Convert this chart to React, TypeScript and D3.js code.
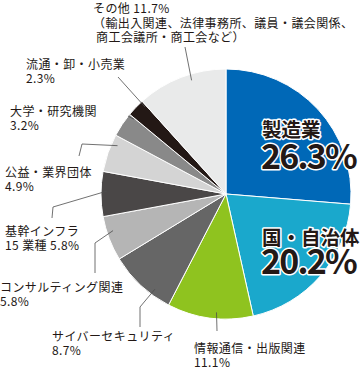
import * as d3 from 'd3';

// 業種別の割合（%）
const categories = [
  '製造業',
  '国・自治体',
  '情報通信・出版関連',
  'サイバーセキュリティ',
  'コンサルティング関連',
  '基幹インフラ15業種',
  '公益・業界団体',
  '大学・研究機関',
  '流通・卸・小売業',
  'その他',
];
const shares = [26.3, 20.2, 11.1, 8.7, 5.8, 5.8, 4.9, 3.2, 2.3, 11.7];
const colors = [
  '#0068b7',
  '#1aa8cc',
  '#8fc31f',
  '#666666',
  '#b5b5b5',
  '#4a4747',
  '#d4d4d4',
  '#898989',
  '#231815',
  '#e9eaea',
];

// 外側ラベルの配置（text lines / leader elbows / where the leader meets the slice）
const outerLabels = [
  { i: 9, x: 93, y: 13, lh: 14.5, lines: ['その他 11.7%', '（輸出入関連、法律事務所、議員・議会関係、', '\u00a0商工会議所・商工会など）'], elbow: [[185, 47]], t: 0.6 },
  { i: 8, x: 26, y: 69, lh: 14, lines: ['流通・卸・小売業', '2.3%'], elbow: [[118, 77]], t: 0.9 },
  { i: 7, x: 10, y: 116, lh: 14, lines: ['大学・研究機関', '3.2%'], elbow: [[128, 116]], t: 0.95 },
  { i: 6, x: 5, y: 177, lh: 14, lines: ['公益・業界団体', '4.9%'], elbow: [[79, 156], [82, 144]], t: 0.77 },
  { i: 5, x: 5, y: 236, lh: 14, lines: ['基幹インフラ', '15 業種 5.8%'], elbow: [[52, 218], [53, 207]], t: 0.57 },
  { i: 4, x: 0, y: 292, lh: 14, lines: ['コンサルティング関連', '5.8%'], elbow: [[95, 273], [95, 243]], t: 0.64 },
  { i: 3, x: 52, y: 341, lh: 14, lines: ['サイバーセキュリティ', '8.7%'], elbow: [[140, 327], [140, 307]], t: 0.3 },
  { i: 2, x: 194, y: 353, lh: 13.5, lines: ['情報通信・出版関連', '11.1%'], elbow: [[217, 331]], t: 0.43 },
];

const innerLabels = [
  { i: 0, x: 262, y: 137, y2: 169, name: '製造業' },
  { i: 1, x: 262, y: 245, y2: 274, name: '国・自治体' },
];

const cx = 226;
const cy = 194;
const radius = 125;
const font = '"Noto Sans CJK JP", "Noto Sans", sans-serif';

export default function App() {
  const pie = d3
    .pie<number>()
    .sort(null)
    .value((d) => d);
  const arcs = pie(shares);
  const arc = d3.arc<d3.PieArcDatum<number>>().innerRadius(0).outerRadius(radius);

  const leaderEnd = (i: number, t: number) => {
    const a = arcs[i];
    const ang = a.startAngle + t * (a.endAngle - a.startAngle);
    const r = radius * 0.95;
    return [cx + r * Math.sin(ang), cy - r * Math.cos(ang)];
  };
  const line = d3.line();

  return (
    <svg
      width={363}
      height={370}
      style={{ position: 'absolute', left: 0, top: 0, background: '#fff' }}
      fontFamily={font}
    >
      <g transform={`translate(${cx},${cy})`}>
        {arcs.map((a, i) => (
          <path
            key={categories[i]}
            d={arc(a) ?? ''}
            fill={colors[i]}
            stroke="#fff"
            strokeWidth={1}
          />
        ))}
      </g>

      {outerLabels.map((l) => (
        <g key={l.i}>
          <path
            d={line([...l.elbow, leaderEnd(l.i, l.t)] as [number, number][]) ?? ''}
            fill="none"
            stroke="#4d4d4d"
            strokeWidth={0.8}
          />
          <text x={l.x} y={l.y} fontSize={12} fill="#231815" letterSpacing={0.4}>
            {l.lines.map((s, k) => (
              <tspan key={k} x={l.x} y={l.y + k * l.lh}>
                {s}
              </tspan>
            ))}
          </text>
        </g>
      ))}

      {innerLabels.map((l) => (
        <g
          key={l.name}
          fill="#231815"
          stroke="#fff"
          strokeWidth={3}
          strokeLinejoin="round"
          paintOrder="stroke"
          fontWeight={700}
        >
          <text x={l.x} y={l.y} fontSize={19.5}>
            {l.name}
          </text>
          <text x={l.x - 1} y={l.y2} fontSize={34} letterSpacing={-1.8}>
            {shares[l.i].toFixed(1)}%
          </text>
        </g>
      ))}
    </svg>
  );
}
